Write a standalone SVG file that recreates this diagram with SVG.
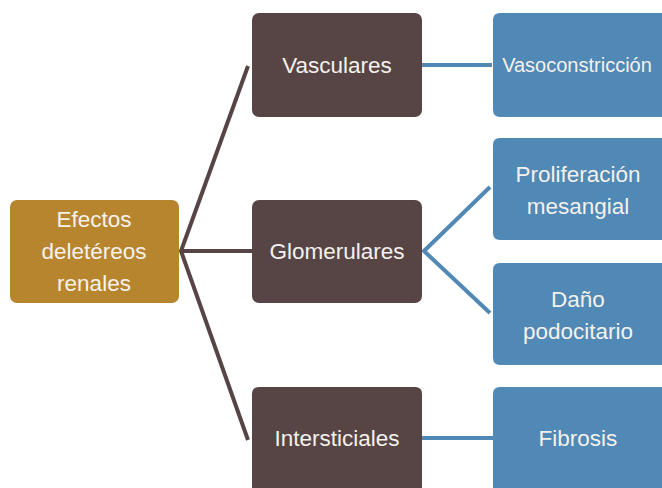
<svg xmlns="http://www.w3.org/2000/svg" width="662" height="488" viewBox="0 0 662 488">
<style>
.root{fill:#B8852F}
.mid{fill:#574545}
.leaf{fill:#5088B6}
text{font-family:"Liberation Sans",Arial,sans-serif;font-size:22.5px;fill:#F4F1EC;text-anchor:middle}
.bl{stroke:#574545;stroke-width:4;fill:none}
.bu{stroke:#5088B6;stroke-width:4;fill:none}
</style>
<rect width="662" height="488" fill="#FFFFFF"/>
<g id="connectors">
<polyline class="bl" points="248,66 181,251 248,440"/>
<line class="bl" x1="181" y1="251" x2="252" y2="251"/>
<line class="bu" x1="422" y1="65" x2="492" y2="65"/>
<polyline class="bu" points="490,187 424,251 490,313"/>
<line class="bu" x1="422" y1="438" x2="493" y2="438"/>
</g>
<g id="n-efectos">
<rect class="root" x="10" y="200" width="169" height="103" rx="7"/>
<text x="94" y="227">Efectos</text>
<text x="94" y="259">deletéreos</text>
<text x="94" y="291">renales</text>
</g>
<g id="n-vasculares">
<rect class="mid" x="252" y="13" width="170" height="104" rx="7"/>
<text x="337" y="73">Vasculares</text>
</g>
<g id="n-glomerulares">
<rect class="mid" x="252" y="200" width="170" height="103" rx="7"/>
<text x="337" y="259">Glomerulares</text>
</g>
<g id="n-intersticiales">
<path class="mid" d="M252,488 V394 Q252,387 259,387 H415 Q422,387 422,394 V488 Z"/>
<text x="337" y="446">Intersticiales</text>
</g>
<g id="n-vasoconstriccion">
<path class="leaf" d="M662,13 H500 Q493,13 493,20 V110 Q493,117 500,117 H662 Z"/>
<text x="577" y="72" style="font-size:20px">Vasoconstricción</text>
</g>
<g id="n-proliferacion">
<path class="leaf" d="M662,138 H500 Q493,138 493,145 V233 Q493,240 500,240 H662 Z"/>
<text x="578" y="182">Proliferación</text>
<text x="578" y="214">mesangial</text>
</g>
<g id="n-dano">
<path class="leaf" d="M662,263 H500 Q493,263 493,270 V358 Q493,365 500,365 H662 Z"/>
<text x="578" y="307">Daño</text>
<text x="578" y="339">podocitario</text>
</g>
<g id="n-fibrosis">
<path class="leaf" d="M662,387 H500 Q493,387 493,394 V488 H662 Z"/>
<text x="578" y="446">Fibrosis</text>
</g>
</svg>
